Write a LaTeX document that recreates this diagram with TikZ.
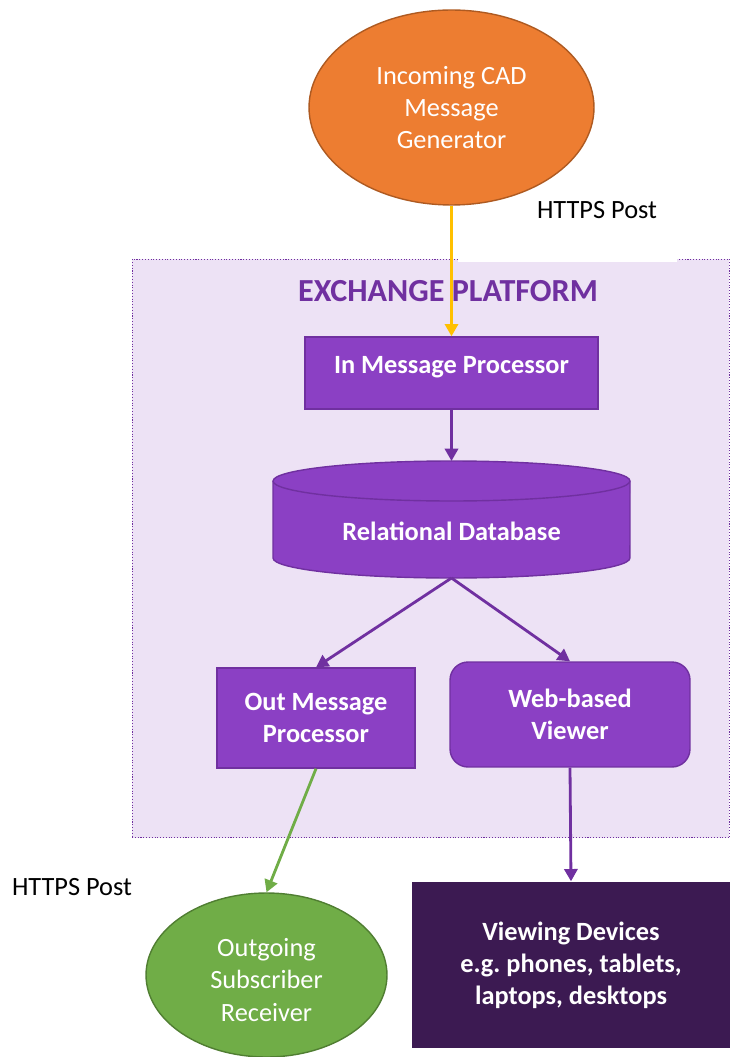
\documentclass[tikz,border=0pt]{standalone}
\usepackage{fontspec}
\setmainfont{Carlito}
\usepackage{tikz}
\usetikzlibrary{arrows.meta,positioning,shapes.geometric}

\definecolor{cadorange}{HTML}{ED7D31}
\definecolor{cadorangedk}{HTML}{AE5A21}
\definecolor{platfill}{HTML}{EDE2F5}
\definecolor{platpurple}{HTML}{7030A0}
\definecolor{boxpurple}{HTML}{8B40C4}
\definecolor{devpurple}{HTML}{3C1A52}
\definecolor{subgreen}{HTML}{70AD47}
\definecolor{subgreendk}{HTML}{507E32}
\definecolor{postyellow}{HTML}{FFC000}

\begin{document}
\begin{tikzpicture}[
  x=0.02cm, y=-0.02cm,
  >={Triangle[length=7pt,width=7.5pt]},
  font=\fontsize{15}{18.2}\selectfont,
  procbox/.style={draw=platpurple,fill=boxpurple,line width=0.8pt,text=white,align=center,inner sep=0pt,font=\fontsize{15}{18.2}\selectfont\bfseries},
  endellipse/.style={ellipse,align=center,text=white,inner sep=0pt,line width=0.8pt},
  flow/.style={->,line width=1.6pt,draw=platpurple}
]
\useasboundingbox (0,0) rectangle (730,1057);

% exchange platform
\node[draw=platpurple,densely dotted,line width=0.6pt,fill=platfill,
  minimum width=11.95cm,minimum height=11.58cm,inner sep=0pt] (plat) at (430.75,548.5) {};
\node[text=platpurple,font=\fontsize{18.3}{22}\selectfont\bfseries] (plattitle) at (448,291) {EXCHANGE PLATFORM};

\node[fill=white,minimum height=2.06cm,text width=3.58cm,inner xsep=0.4cm,align=flush right] (postin) at (567.5,210.5) {HTTPS Post};
\node[endellipse,fill=cadorange,draw=cadorangedk,minimum width=5.7cm,minimum height=3.9cm] (gen) at (451.5,107.5)
  {Incoming CAD\\Message\\Generator};

\node[procbox,minimum width=5.86cm,minimum height=1.44cm,text depth=0.31cm] (inproc) at (451.5,373) {In Message Processor};

% database cylinder
\coordinate (dbtop) at (451.5,461);
\coordinate (dbbot) at (451.5,578);
\filldraw[draw=platpurple,fill=boxpurple,line width=0.8pt]
  (273,481) -- (273,558)
  arc[start angle=180,end angle=360,x radius=3.57cm,y radius=0.4cm]
  -- (630,481)
  arc[start angle=0,end angle=180,x radius=3.57cm,y radius=0.4cm] -- cycle;
\draw[draw=platpurple,line width=0.8pt] (273,481) arc[start angle=180,end angle=360,x radius=3.57cm,y radius=0.4cm];
\node[text=white,font=\fontsize{15}{18.2}\selectfont\bfseries] (db) at (451.5,531) {Relational Database};

\node[procbox,minimum width=3.96cm,minimum height=2cm] (outproc) at (316,718) {Out Message\\Processor};
\node[procbox,rounded corners=0.36cm,minimum width=4.8cm,minimum height=2.1cm] (viewer) at (570,714.5) {Web-based\\Viewer};

\node[procbox,draw=none,fill=devpurple,minimum width=6.36cm,minimum height=3.32cm] (devices) at (571,965)
  {Viewing Devices\\e.g.\ phones, tablets,\\laptops, desktops};
\node[endellipse,fill=subgreen,draw=subgreendk,minimum width=4.82cm,minimum height=3.28cm,
  font=\fontsize{15}{18.6}\selectfont,text height=1.87cm] (subscr) at (266.5,975)
  {Outgoing\\Subscriber\\Receiver};
\node (postout) at (72,887) {HTTPS Post};

\draw[flow,draw=postyellow] (gen) -- (inproc);
\draw[flow] (inproc) -- (dbtop);
\draw[flow] (dbbot) -- (outproc.north);
\draw[flow] (dbbot) -- (viewer.north);
\draw[flow,draw=subgreen] (outproc.south) -- (subscr.north);
\draw[flow] (viewer.south) -- (devices.north);

\end{tikzpicture}
\end{document}
